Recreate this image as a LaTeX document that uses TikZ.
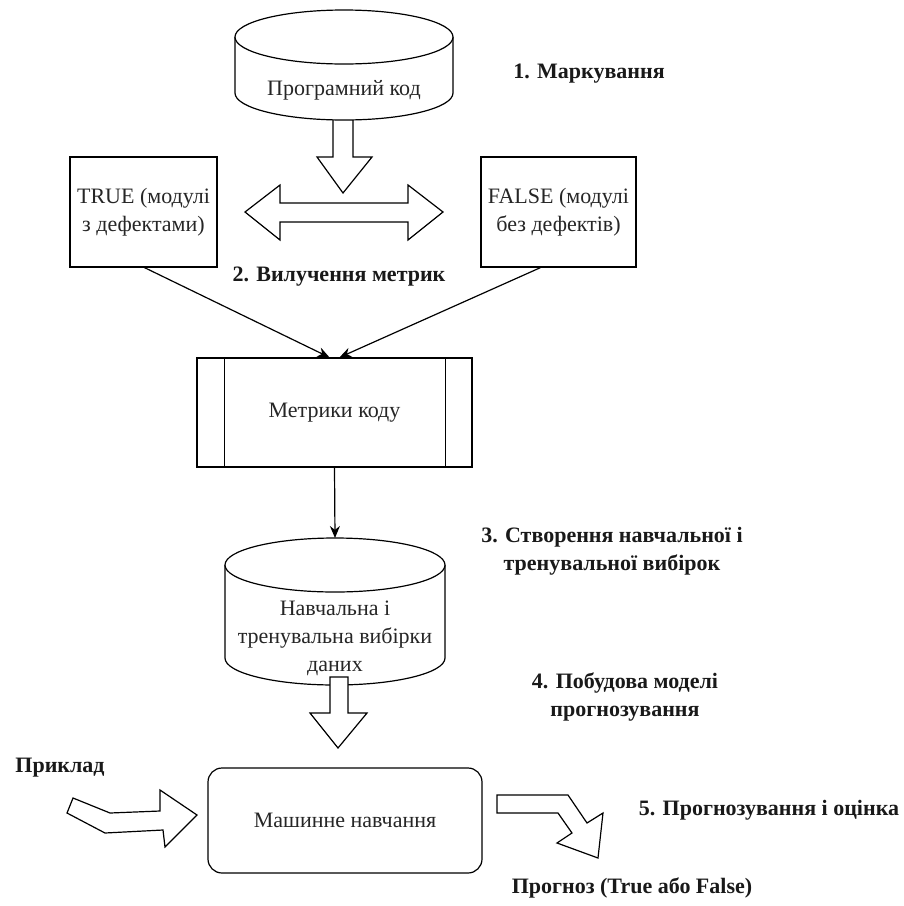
\documentclass[tikz,border=0pt]{standalone}
\usepackage{fontspec}
\setmainfont{Liberation Serif}
\usetikzlibrary{arrows.meta,positioning}

\tikzset{
  outline/.style={draw=black, line width=1.2pt, fill=white, line join=miter},
  plain/.style={font=\fontsize{22pt}{28pt}\selectfont, align=center, inner sep=0pt, text=black!85},
  stagelabel/.style={font=\bfseries\fontsize{22pt}{28pt}\selectfont, align=center, inner sep=0pt, text=black!90},
  boxnode/.style={outline, plain},
  flow/.style={draw=black, line width=1.2pt, -{Stealth[length=12pt,width=10pt]}},
}

\begin{document}
\begin{tikzpicture}[x=1pt,y=-1pt]
\useasboundingbox (0,0) rectangle (904,906);

% block arrow leaving the source-code store
\draw[outline] (333,115) -- (333,157) -- (317,157) -- (343,193) -- (372,157) -- (353,157) -- (353,115) -- cycle;

% source-code store (cylinder)
\draw[outline] (235,37) -- (235,93) arc[start angle=180, end angle=0, x radius=109, y radius=27] -- (453,37);
\draw[outline] (344,37) ellipse[x radius=109, y radius=27];
\node[plain] (code) at (344,90) {Програмний код};

% two-way block arrow between the classes
\draw[outline] (245,212) -- (280,185) -- (280,203) -- (408,203) -- (408,185) -- (443,212)
  -- (408,240) -- (408,222) -- (280,222) -- (280,240) -- cycle;

% defect classes
\node[boxnode, minimum width=147pt, minimum height=110pt] (true) at (143.5,212) {TRUE (модулі\\з дефектами)};
\node[boxnode, minimum width=155pt, minimum height=110pt] (false) at (558.5,212) {FALSE (модулі\\без дефектів)};

% code metrics (predefined process)
\node[boxnode, minimum width=275pt, minimum height=109pt] (metrics) at (334.5,412.5) {Метрики коду};
\draw[line width=1.2pt] ([xshift=28pt]metrics.north west) -- ([xshift=28pt]metrics.south west);
\draw[line width=1.2pt] ([xshift=-27pt]metrics.north east) -- ([xshift=-27pt]metrics.south east);

\draw[flow] ([xshift=1pt]true.south) -- ([xshift=-5pt]metrics.north);
\draw[flow] ([xshift=-18pt]false.south) -- ([xshift=5pt]metrics.north);

% training and test data store (cylinder)
\draw[outline] (225,565) -- (225,658) arc[start angle=180, end angle=0, x radius=110, y radius=27] -- (445,565);
\draw[outline] (335,565) ellipse[x radius=110, y radius=27];
\coordinate (datatop) at (335,538);
\node[plain] (data) at (335,638) {Навчальна і\\тренувальна вибірки\\даних};
\draw[flow] (metrics.south) -- (datatop);

% block arrow into the learner
\draw[outline] (330,677) -- (330,713) -- (310,713) -- (338,748) -- (367,713) -- (348,713) -- (348,677) -- cycle;

% machine learning
\node[boxnode, rounded corners=14pt, minimum width=274pt, minimum height=105pt] (ml) at (345,820.5) {Машинне навчання};

% bent block arrow: example in
\draw[outline] (73,798) -- (110,813) -- (160,811) -- (160,790) -- (197,815) -- (165,847)
  -- (163,830) -- (105,833) -- (67,813) -- cycle;

% bent block arrow: prediction out
\draw[outline] (497,795) -- (568,795) -- (587,823) -- (603,813) -- (598,858) -- (557,843)
  -- (572,833) -- (558,813) -- (497,813) -- cycle;

% stage labels
\node[stagelabel] (s1) at (589,74) {1. Маркування};
\node[stagelabel] (s2) at (339,277) {2. Вилучення метрик};
\node[stagelabel] (s3) at (612,551) {3. Створення навчальної і\\тренувальної вибірок};
\node[stagelabel] (s4) at (625,697) {4. Побудова моделі\\прогнозування};
\node[stagelabel] (s5) at (769,810) {5. Прогнозування і оцінка};
\node[stagelabel] (example) at (60,768) {Приклад};
\node[stagelabel] (forecast) at (632,888) {Прогноз (True або False)};
\end{tikzpicture}
\end{document}
